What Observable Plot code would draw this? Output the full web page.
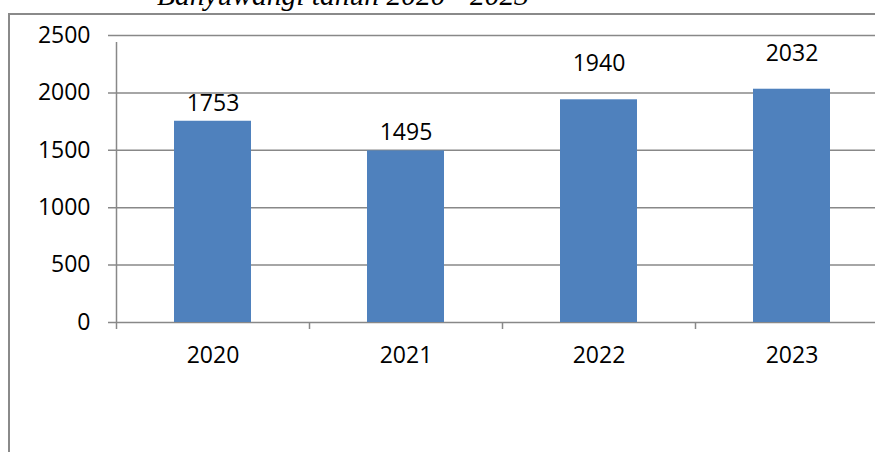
<!DOCTYPE html>
<html>
<head>
<meta charset="utf-8">
<script src="https://cdn.jsdelivr.net/npm/d3@7"></script>
<script src="https://cdn.jsdelivr.net/npm/@observablehq/plot@0.6"></script>
<style>
  html, body { margin: 0; padding: 0; background: #fff; overflow: hidden; width: 875px; height: 452px; }
  #wrap { position: relative; width: 875px; height: 452px; overflow: hidden; }
  #title { position: absolute; left: 157px; top: -19px; font-family: "Liberation Serif", "Times New Roman", serif; font-style: italic; font-size: 29.5px; line-height: 1; white-space: nowrap; color: #000; }
  #frame { position: absolute; left: 8px; top: 13px; width: 950px; height: 520px; border: 2px solid #8a8a8a; box-sizing: border-box; }
  #chart { position: absolute; left: 0; top: 0; width: 900px; }
  #chart svg { max-width: none !important; }
</style>
</head>
<body>
<div id="wrap">
  <div id="title">Banyuwangi tahun 2020 - 2023</div>
  <div id="frame"></div>
  <div id="chart"></div>
</div>
<script>
const years = ["2020", "2021", "2022", "2023"];
const values = [1753, 1495, 1940, 2032];
const yTicks = [0, 500, 1000, 1500, 2000, 2500];

const data = years.map((y, i) => ({year: y, value: values[i], idx: i}));
const font = "'Open Sans', sans-serif";
const step = (888 - 116) / years.length;

const plot = Plot.plot({
  width: 900,
  height: 452,
  marginTop: 35,
  marginBottom: 130,
  marginLeft: 116,
  marginRight: 12,
  style: {fontFamily: font, fontSize: "23px", color: "#000", background: "transparent", overflow: "visible", maxWidth: "none"},
  x: {domain: years, paddingInner: 0.6, paddingOuter: 0.3, axis: null},
  y: {domain: [0, 2500], axis: null},
  marks: [
    Plot.ruleY(yTicks, {y: d => d, stroke: "#888", strokeWidth: 1.5, insetLeft: -8}),
    Plot.barY(data, {x: "year", y: "value", fill: "#4f81bd"}),
    Plot.ruleX([years[0]], {x: d => d, dx: -step / 2, y1: 0, y2: 2500, stroke: "#888", strokeWidth: 1.5, insetBottom: -7}),
    Plot.ruleX(years, {x: d => d, dx: -step / 2, y1: 0, y2: 0, stroke: "#888", strokeWidth: 1.5, insetBottom: -7}),
    Plot.axisY(yTicks, {tickSize: 0, tickPadding: 26, tickFormat: d => String(d), fontSize: 23, fontFamily: font, fill: "#000", label: null}),
    Plot.axisX(years, {tickSize: 0, tickPadding: 24, fontSize: 23, fontFamily: font, fill: "#000", label: null}),
    Plot.text(data.filter(d => d.idx < 2), {x: "year", y: "value", text: d => String(d.value), dy: -18, lineAnchor: "middle", fontSize: 23, fontFamily: font, fill: "#000"}),
    Plot.text(data.filter(d => d.idx >= 2), {x: "year", y: "value", text: d => String(d.value), dy: -36, lineAnchor: "middle", fontSize: 23, fontFamily: font, fill: "#000"})
  ]
});
document.getElementById("chart").appendChild(plot);
</script>
</body>
</html>
